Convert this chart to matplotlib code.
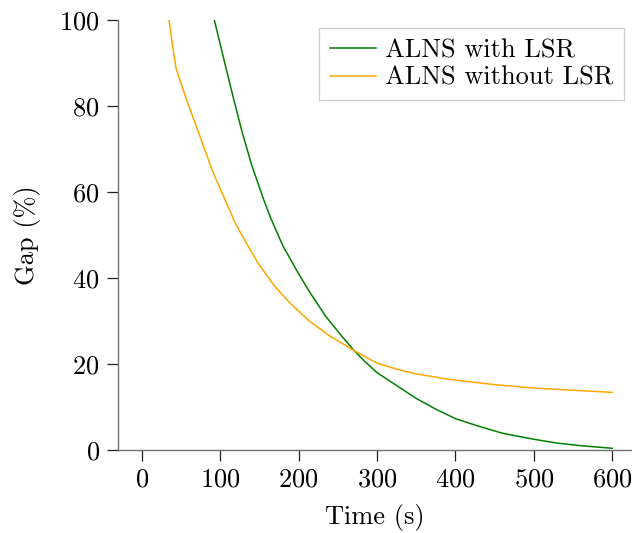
import matplotlib
matplotlib.use("Agg")
import matplotlib.pyplot as plt

plt.rcParams["font.family"] = ["cmr10", "DejaVu Serif"]
plt.rcParams["axes.formatter.use_mathtext"] = True
plt.rcParams["mathtext.fontset"] = "cm"

# ALNS with LSR
t_lsr = [92.6, 105, 117, 128, 140, 155, 165, 180, 200, 215, 235, 255, 270,
         285, 300, 325, 350, 375, 400, 430, 460, 500, 530, 560, 600]
gap_lsr = [100, 90.7, 81.8, 74, 66.4, 58.5, 53.7, 47.5, 41, 36.5, 31, 26.5,
           23.3, 20.5, 18, 15, 12, 9.5, 7.3, 5.5, 3.9, 2.5, 1.6, 1.0, 0.4]

# ALNS without LSR
t_nolsr = [34.8, 38, 41, 44, 48.8, 60, 73, 90, 106, 120, 136, 150, 170, 190,
           215, 240, 272, 300, 325, 350, 393, 450, 500, 550, 600]
gap_nolsr = [100, 95.8, 92, 88.6, 86, 80, 73.6, 65, 58.3, 52.5, 47.3, 43, 38,
             34, 29.8, 26.5, 23, 20.2, 18.8, 17.7, 16.4, 15.2, 14.4, 13.9, 13.4]

fs = 19
fig = plt.figure(figsize=(6.32, 5.33), dpi=100)
ax = fig.add_axes([117.7 / 632, 83 / 533, (632 - 117.7) / 632, 430 / 533])

ax.plot(t_lsr, gap_lsr, color="green", lw=1.1, label="ALNS with LSR")
ax.plot(t_nolsr, gap_nolsr, color="orange", lw=1.1, label="ALNS without LSR")

ax.set_xlim(-30.6, 625.2)
ax.set_ylim(0, 100)
ax.set_xticks([0, 100, 200, 300, 400, 500, 600])
ax.set_yticks([0, 20, 40, 60, 80, 100])

for s in ["top", "right"]:
    ax.spines[s].set_visible(False)
for s in ["left", "bottom"]:
    ax.spines[s].set_color("#707070")
    ax.spines[s].set_linewidth(1.0)

ax.tick_params(axis="both", direction="out", length=7.9, width=0.9,
               color="#202020", labelsize=fs, pad=5)

ax.set_xlabel("Time (s)", fontsize=fs, labelpad=9)
ax.set_ylabel("Gap (%)", fontsize=fs, labelpad=13)

leg = ax.legend(loc="upper right", fontsize=fs, frameon=True, fancybox=False,
                edgecolor="#cccccc", framealpha=1, handlelength=1.75,
                handletextpad=0.35, labelspacing=0.15, borderpad=0.4,
                borderaxespad=0.3)
leg.get_frame().set_linewidth(0.9)

fig.savefig("out.png", dpi=100)
